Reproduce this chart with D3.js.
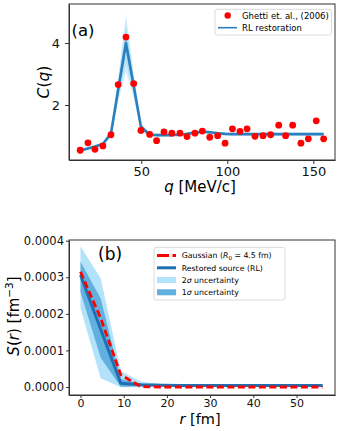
<!DOCTYPE html>
<html>
<head>
<meta charset="utf-8">
<script src="https://cdnjs.cloudflare.com/ajax/libs/d3/7.8.5/d3.min.js"></script>
<style>
  body { margin: 0; background: #fff; }
  svg { font-family: "DejaVu Sans", sans-serif; }
  .axis path, .axis line { stroke: #333; }
  .axis text { fill: #111; }
</style>
</head>
<body>
<div id="vis"></div>
<script>
// panel (a): correlation function
var qValues = [14.5, 19, 23.1, 27.7, 32.4, 36.6, 41.1, 45.6, 49.8, 54.9, 58.9, 63.2, 67.8, 72.5, 76.6, 81.2, 85.5,
  89.8, 94.4, 98.7, 103, 107.4, 111.5, 116.1, 120.8, 125.2, 129.9, 133.9, 138, 142.8, 147.1, 151.7, 156];
var ghettiC = [0.54, 0.78, 0.57, 0.68, 1.04, 2.66, 4.19, 2.69, 1.18, 1.05, 0.85, 1.13, 1.09, 1.09, 0.98, 1.09, 1.16,
  0.96, 1.01, 0.77, 1.23, 1.15, 1.23, 0.99, 1.01, 1.04, 1.35, 1.01, 1.35, 0.77, 0.91, 1.49, 0.91];
var rlC = [0.53, 0.6, 0.66, 0.74, 1.08, 2.5, 4.0, 2.62, 1.3, 1.04, 1.03, 1.03, 1.03, 1.04, 1.07, 1.11, 1.14,
  1.12, 1.09, 1.07, 1.06, 1.06, 1.06, 1.06, 1.06, 1.06, 1.06, 1.06, 1.06, 1.06, 1.06, 1.06, 1.06];
var rlSpread = [0.04, 0.04, 0.05, 0.06, 0.12, 0.4, 0.95, 0.4, 0.12, 0.06, 0.05, 0.05, 0.05, 0.05, 0.05, 0.05, 0.05,
  0.05, 0.05, 0.05, 0.05, 0.05, 0.05, 0.05, 0.05, 0.05, 0.05, 0.05, 0.05, 0.05, 0.05, 0.05, 0.05];
var qTicks = [50, 100, 150];
var cTicks = [2, 4];

// panel (b): source function
var rValues = [0, 4.67, 9.33, 14, 18.67, 23.33, 28, 32.67, 37.33, 42, 46.67, 51.33, 56];
var gaussianS = [0.000315, 0.000188, 0.000033, 0.000001, 0, 0, 0, 0, 0, 0, 0, 0, 0];
var restoredS = [0.000306, 0.000158, 0.00001, 0.000006, 0.000005, 0.000004, 0.000004, 0.000004, 0.000004,
  0.000004, 0.000004, 0.000004, 0.000004];
var sigma1Up = [0.000343, 0.000242, 0.000022, 0.000009, 0.000007, 0.000006, 0.000006, 0.000006, 0.000006,
  0.000006, 0.000006, 0.000006, 0.000006];
var sigma1Low = [0.00026, 0.00008, 0.000001, 0.000002, 0.000002, 0.000002, 0.000002, 0.000002, 0.000002,
  0.000002, 0.000002, 0.000002, 0.000002];
var sigma2Up = [0.000385, 0.000297, 0.000044, 0.0000145, 0.0000085, 0.000008, 0.000008, 0.000008, 0.000008,
  0.000008, 0.000008, 0.000008, 0.000008];
var sigma2Low = [0.000215, 0.000024, -0.000001, -0.000001, 0, 0, 0, 0, 0, 0, 0, 0, 0];
var rTicks = [0, 10, 20, 30, 40, 50];
var sTicks = [0, 0.0001, 0.0002, 0.0003, 0.0004];

var width = 340;
var height = 431;

var svg = d3.select('#vis')
  .append('svg')
  .attr('width', width)
  .attr('height', height);

svg.append('rect').attr('width', width).attr('height', height).attr('fill', '#fff');

// ---------- (a) ----------
var xa = d3.scaleLinear().domain([8, 162.6]).range([69, 335]);
var ya = d3.scaleLinear().domain([0.226, 5.258]).range([160, 4]);

var ga = svg.append('g');

var bandLayers = [1, 0.75, 0.5, 0.25];
bandLayers.forEach(function(f) {
  var area = d3.area()
    .x(function(d, i) { return xa(qValues[i]); })
    .y0(function(d, i) { return ya(rlC[i] - f * rlSpread[i]); })
    .y1(function(d, i) { return ya(rlC[i] + f * rlSpread[i]); });
  ga.append('path')
    .datum(rlC)
    .attr('d', area)
    .attr('fill', '#7fcdf3')
    .attr('fill-opacity', 0.3);
});

var lineA = d3.line()
  .x(function(d, i) { return xa(qValues[i]); })
  .y(function(d) { return ya(d); });

ga.append('path')
  .datum(rlC)
  .attr('d', lineA)
  .attr('fill', 'none')
  .attr('stroke', '#2a7fbf')
  .attr('stroke-width', 2.6)
  .attr('stroke-linejoin', 'round');

ga.selectAll('.pt')
  .data(ghettiC)
  .enter()
  .append('circle')
  .attr('class', 'pt')
  .attr('cx', function(d, i) { return xa(qValues[i]); })
  .attr('cy', function(d) { return ya(d); })
  .attr('r', 3.4)
  .attr('fill', '#ff0000');

ga.append('g')
  .attr('class', 'axis')
  .attr('transform', 'translate(0,160)')
  .call(d3.axisBottom(xa).tickValues(qTicks).tickSize(4).tickPadding(2.5).tickSizeOuter(0))
  .attr('font-size', 13)
  .attr('font-family', null);

ga.append('g')
  .attr('class', 'axis')
  .attr('transform', 'translate(69,0)')
  .call(d3.axisLeft(ya).tickValues(cTicks).tickFormat(d3.format('d')).tickSize(4).tickPadding(5).tickSizeOuter(0))
  .attr('font-size', 13)
  .attr('font-family', null);

ga.append('rect')
  .attr('x', 69).attr('y', 4).attr('width', 266).attr('height', 156)
  .attr('fill', 'none').attr('stroke', '#333').attr('stroke-width', 1);

ga.append('text')
  .attr('x', 71.5).attr('y', 36)
  .attr('font-size', 16.5)
  .text('(a)');

var xla = ga.append('text')
  .attr('x', 200).attr('y', 191.5)
  .attr('text-anchor', 'middle')
  .attr('font-size', 15);
xla.append('tspan').attr('font-style', 'italic').text('q');
xla.append('tspan').text(' [MeV/c]');

var yla = ga.append('text')
  .attr('transform', 'translate(48.5,82) rotate(-90)')
  .attr('text-anchor', 'middle')
  .attr('font-size', 15.5);
yla.append('tspan').attr('font-style', 'italic').text('C');
yla.append('tspan').text('(');
yla.append('tspan').attr('font-style', 'italic').text('q');
yla.append('tspan').text(')');

// legend (a)
var la = ga.append('g');
la.append('rect')
  .attr('x', 215).attr('y', 9.3).attr('width', 116.5).attr('height', 25.7).attr('rx', 2)
  .attr('fill', '#fff').attr('fill-opacity', 0.8).attr('stroke', '#d0d0d0').attr('stroke-width', 0.8);
la.append('circle').attr('cx', 227.7).attr('cy', 15.5).attr('r', 3.2).attr('fill', '#ff0000');
la.append('text').attr('x', 242).attr('y', 18.5).attr('font-size', 8.5).text('Ghetti et. al., (2006)');
la.append('line').attr('x1', 218).attr('x2', 237).attr('y1', 27.7).attr('y2', 27.7)
  .attr('stroke', '#2a7fbf').attr('stroke-width', 1.6);
la.append('text').attr('x', 242).attr('y', 30.7).attr('font-size', 8.5).text('RL restoration');

// ---------- (b) ----------
var xb = d3.scaleLinear().domain([-2.66, 58.9]).range([69, 335]);
var yb = d3.scaleLinear().domain([-0.0000219, 0.0004019]).range([395, 240]);

var gb = svg.append('g');

function band(up, low) {
  return d3.area()
    .x(function(d, i) { return xb(rValues[i]); })
    .y0(function(d, i) { return yb(low[i]); })
    .y1(function(d, i) { return yb(up[i]); });
}

gb.append('path')
  .datum(rValues)
  .attr('d', band(sigma2Up, sigma2Low))
  .attr('fill', '#b3e3fa');

gb.append('path')
  .datum(rValues)
  .attr('d', band(sigma1Up, sigma1Low))
  .attr('fill', '#62b0e0');

var lineB = d3.line()
  .x(function(d, i) { return xb(rValues[i]); })
  .y(function(d) { return yb(d); });

gb.append('path')
  .datum(restoredS)
  .attr('d', lineB)
  .attr('fill', 'none')
  .attr('stroke', '#1f70b2')
  .attr('stroke-width', 3);

gb.append('path')
  .datum(gaussianS)
  .attr('d', lineB)
  .attr('fill', 'none')
  .attr('stroke', '#ff0000')
  .attr('stroke-width', 2.8)
  .attr('stroke-dasharray', '7,3.5');

gb.append('g')
  .attr('class', 'axis')
  .attr('transform', 'translate(0,395)')
  .call(d3.axisBottom(xb).tickValues(rTicks).tickSize(3).tickPadding(1.5).tickSizeOuter(0))
  .attr('font-size', 11)
  .attr('font-family', null);

gb.append('g')
  .attr('class', 'axis')
  .attr('transform', 'translate(69,0)')
  .call(d3.axisLeft(yb).tickValues(sTicks).tickFormat(d3.format('.4f')).tickSize(3).tickPadding(2).tickSizeOuter(0))
  .attr('font-size', 11.5)
  .attr('font-family', null);

gb.append('rect')
  .attr('x', 69).attr('y', 240).attr('width', 266).attr('height', 155)
  .attr('fill', 'none').attr('stroke', '#333').attr('stroke-width', 1);

gb.append('text')
  .attr('x', 98).attr('y', 259.5)
  .attr('font-size', 17)
  .text('(b)');

var xlb = gb.append('text')
  .attr('x', 200).attr('y', 423.5)
  .attr('text-anchor', 'middle')
  .attr('font-size', 14.5);
xlb.append('tspan').attr('font-style', 'italic').text('r');
xlb.append('tspan').text(' [fm]');

var ylb = gb.append('text')
  .attr('transform', 'translate(19,316) rotate(-90)')
  .attr('text-anchor', 'middle')
  .attr('font-size', 15);
ylb.append('tspan').attr('font-style', 'italic').text('S');
ylb.append('tspan').text('(');
ylb.append('tspan').attr('font-style', 'italic').text('r');
ylb.append('tspan').text(') [fm');
ylb.append('tspan').attr('font-size', 10.5).attr('dy', -6).text('\u22123');
ylb.append('tspan').attr('dy', 6).text(']');

// legend (b)
var lb = gb.append('g');
lb.append('rect')
  .attr('x', 154).attr('y', 247.3).attr('width', 131).attr('height', 52.7).attr('rx', 2)
  .attr('fill', '#fff').attr('fill-opacity', 0.8).attr('stroke', '#d0d0d0').attr('stroke-width', 0.8);

var rows = [255.5, 267.8, 280, 292.3];
lb.append('line').attr('x1', 157).attr('x2', 176).attr('y1', rows[0]).attr('y2', rows[0])
  .attr('stroke', '#ff0000').attr('stroke-width', 2.8).attr('stroke-dasharray', '12,3.5');
lb.append('line').attr('x1', 157).attr('x2', 176).attr('y1', rows[1]).attr('y2', rows[1])
  .attr('stroke', '#1f70b2').attr('stroke-width', 3);
lb.append('rect').attr('x', 157).attr('y', rows[2] - 3).attr('width', 19).attr('height', 6).attr('fill', '#b3e3fa');
lb.append('rect').attr('x', 157).attr('y', rows[3] - 3).attr('width', 19).attr('height', 6).attr('fill', '#62b0e0');

var fs = 7.8;
var t0 = lb.append('text').attr('x', 181.7).attr('y', rows[0] + 2.8).attr('font-size', fs);
t0.append('tspan').text('Gaussian (');
t0.append('tspan').attr('font-style', 'italic').text('R');
t0.append('tspan').attr('font-size', 5.5).attr('dy', 1.5).text('0');
t0.append('tspan').attr('dy', -1.5).text(' = 4.5 fm)');
lb.append('text').attr('x', 181.7).attr('y', rows[1] + 2.8).attr('font-size', fs).text('Restored source (RL)');
var t2 = lb.append('text').attr('x', 181.7).attr('y', rows[2] + 2.8).attr('font-size', fs);
t2.append('tspan').text('2');
t2.append('tspan').attr('font-style', 'italic').text('\u03c3');
t2.append('tspan').text(' uncertainty');
var t3 = lb.append('text').attr('x', 181.7).attr('y', rows[3] + 2.8).attr('font-size', fs);
t3.append('tspan').text('1');
t3.append('tspan').attr('font-style', 'italic').text('\u03c3');
t3.append('tspan').text(' uncertainty');
</script>
</body>
</html>
